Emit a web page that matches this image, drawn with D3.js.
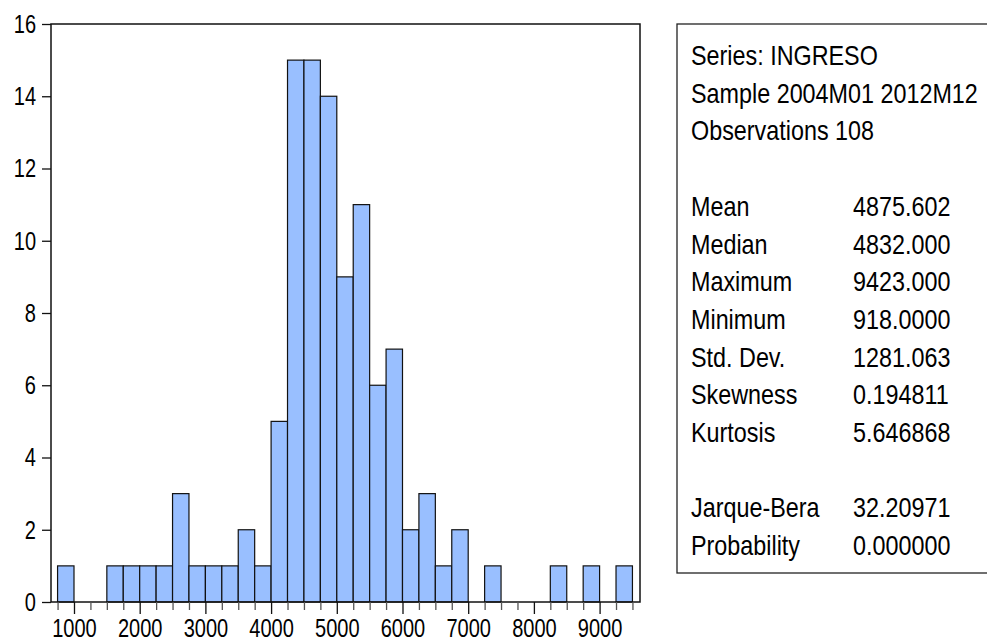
<!DOCTYPE html>
<html lang="en">
<head>
    <meta charset="UTF-8">
    <script src="https://cdnjs.cloudflare.com/ajax/libs/d3/7.8.5/d3.min.js"></script>
    <title>INGRESO Histogram</title>
    <style>
        body {
            margin: 0;
            background: white;
        }

        text {
            font-family: 'Liberation Sans', Arial, sans-serif;
            fill: black;
        }
    </style>
</head>

<body>
    <div id="chart"></div>

    <script>
        // Histogram bins (lower edge, bin width 250) and counts
        const binStarts = [750, 1000, 1250, 1500, 1750, 2000, 2250, 2500, 2750, 3000,
                           3250, 3500, 3750, 4000, 4250, 4500, 4750, 5000, 5250, 5500,
                           5750, 6000, 6250, 6500, 6750, 7000, 7250, 7500, 7750, 8000,
                           8250, 8500, 8750, 9000, 9250];
        const counts = [1, 0, 0, 1, 1, 1, 1, 3, 1, 1,
                        1, 2, 1, 5, 15, 15, 14, 9, 11, 6,
                        7, 2, 3, 1, 2, 0, 1, 0, 0, 0,
                        1, 0, 1, 0, 1];
        const binWidth = 250;

        // Axis ticks
        const xTicks = [1000, 2000, 3000, 4000, 5000, 6000, 7000, 8000, 9000];
        const yTicks = [0, 2, 4, 6, 8, 10, 12, 14, 16];

        // Statistics panel
        const headerLines = ["Series: INGRESO", "Sample 2004M01 2012M12", "Observations 108"];
        const statLabels = ["Mean", "Median", "Maximum", "Minimum", "Std. Dev.", "Skewness", "Kurtosis"];
        const statValues = ["4875.602", "4832.000", "9423.000", "918.0000", "1281.063", "0.194811", "5.646868"];
        const testLabels = ["Jarque-Bera", "Probability"];
        const testValues = ["32.20971", "0.000000"];

        const width = 987;
        const height = 643;

        // no narrow font installed, so squeeze text horizontally
        const axisSqueeze = 0.77;
        const statSqueeze = 0.865;

        const svg = d3.select("#chart").append("svg")
            .attr("width", width)
            .attr("height", height);

        // Plot area
        const plot = { left: 51, top: 24, right: 640, bottom: 602 };

        const x = d3.scaleLinear()
            .domain([650, 9615])
            .range([plot.left, plot.right]);

        const y = d3.scaleLinear()
            .domain([0, 16])
            .range([plot.bottom, plot.top]);

        const bins = binStarts.map((b, i) => ({ x0: b, x1: b + binWidth, n: counts[i] }));

        // Bars
        svg.append("g")
            .selectAll("rect")
            .data(bins.filter(d => d.n > 0))
            .enter()
            .append("rect")
            .attr("x", d => x(d.x0))
            .attr("y", d => y(d.n))
            .attr("width", d => x(d.x1) - x(d.x0))
            .attr("height", d => y(0) - y(d.n))
            .attr("fill", "#99bfff")
            .attr("stroke", "#111")
            .attr("stroke-width", 1.2);

        // Frame
        svg.append("rect")
            .attr("x", plot.left)
            .attr("y", plot.top)
            .attr("width", plot.right - plot.left)
            .attr("height", plot.bottom - plot.top)
            .attr("fill", "none")
            .attr("stroke", "#111")
            .attr("stroke-width", 1.5);

        // Y axis
        const yAxis = d3.axisLeft(y)
            .tickValues(yTicks)
            .tickSize(9)
            .tickPadding(6)
            .tickFormat(d3.format("d"));

        svg.append("g")
            .attr("transform", `translate(${plot.left},0)`)
            .call(yAxis)
            .call(g => g.select(".domain").remove())
            .call(g => g.selectAll("line").attr("stroke", "#111").attr("stroke-width", 1.3))
            .call(g => g.selectAll("text")
                .attr("font-size", 26)
                .attr("font-family", null)
                .attr("x", -15 / axisSqueeze)
                .attr("transform", `scale(${axisSqueeze},1)`));

        // X axis minor ticks every 250
        const minorTicks = d3.range(750, 9501, 250).filter(v => v % 1000 !== 0);
        svg.append("g")
            .attr("transform", `translate(0,${plot.bottom})`)
            .call(d3.axisBottom(x).tickValues(minorTicks).tickSize(8).tickFormat(""))
            .call(g => g.select(".domain").remove())
            .call(g => g.selectAll("line").attr("stroke", "#555").attr("stroke-width", 1.3));

        // X axis major ticks
        svg.append("g")
            .attr("transform", `translate(0,${plot.bottom})`)
            .call(d3.axisBottom(x).tickValues(xTicks).tickSize(12).tickPadding(5).tickFormat(d3.format("d")))
            .call(g => g.select(".domain").remove())
            .call(g => g.selectAll("line").attr("stroke", "#111").attr("stroke-width", 1.3))
            .call(g => g.selectAll("text")
                .attr("font-size", 26)
                .attr("font-family", null)
                .attr("transform", `scale(${axisSqueeze},1)`));

        // Statistics box
        const box = { left: 677, top: 24, bottom: 573 };
        svg.append("rect")
            .attr("x", box.left)
            .attr("y", box.top)
            .attr("width", width - box.left + 5)
            .attr("height", box.bottom - box.top)
            .attr("fill", "none")
            .attr("stroke", "#222")
            .attr("stroke-width", 1.3);

        const lineH = 37.7;
        const labelX = 691;
        const valueX = 853;
        const firstBase = 65;

        const rows = [];
        headerLines.forEach((t, i) => rows.push({ label: t, value: null, row: i }));
        statLabels.forEach((t, i) => rows.push({ label: t, value: statValues[i], row: 4 + i }));
        testLabels.forEach((t, i) => rows.push({ label: t, value: testValues[i], row: 12 + i }));

        const stats = svg.append("g").attr("font-size", 27);

        stats.selectAll(".lab")
            .data(rows)
            .enter()
            .append("text")
            .attr("class", "lab")
            .attr("transform", d => `translate(${labelX},${firstBase + d.row * lineH}) scale(${statSqueeze},1)`)
            .text(d => d.label);

        stats.selectAll(".val")
            .data(rows.filter(d => d.value !== null))
            .enter()
            .append("text")
            .attr("class", "val")
            .attr("transform", d => `translate(${valueX},${firstBase + d.row * lineH}) scale(${statSqueeze},1)`)
            .text(d => d.value);
    </script>
</body>
</html>
